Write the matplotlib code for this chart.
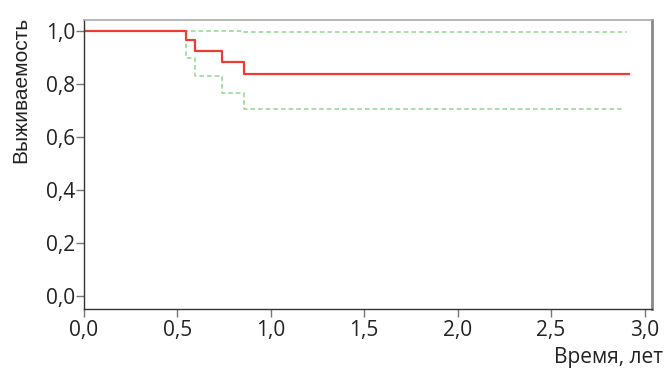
# Kaplan-Meier survival curve with 95% confidence bounds

import matplotlib.pyplot as plt

# step curve data (time in years, survival)
t_surv = [0.0, 0.548, 0.596, 0.74, 0.856, 2.915]
surv = [1.0, 0.966, 0.925, 0.884, 0.839, 0.839]

t_low = [0.0, 0.548, 0.596, 0.74, 0.856, 2.89]
low = [1.0, 0.899, 0.829, 0.765, 0.706, 0.706]

t_up = [0.0, 0.856, 2.905]
up = [1.0, 0.997, 0.997]

x_ticks = [0.0, 0.5, 1.0, 1.5, 2.0, 2.5, 3.0]
y_ticks = [0.0, 0.2, 0.4, 0.6, 0.8, 1.0]

fig = plt.figure(figsize=(6.66, 3.70), dpi=100)
ax = fig.add_axes([0.126, 0.165, 0.853, 0.781])

green = '#8fd68f'
ax.step(t_up, up, where='post', color=green, lw=1.1, ls=(0, (3, 2)))
ax.step(t_low, low, where='post', color=green, lw=1.1, ls=(0, (3, 2)))
ax.step(t_surv, surv, where='post', color='#ee3b33', lw=1.6)

ax.set_xlim(0, 3.04)
ax.set_ylim(-0.05, 1.042)
ax.set_xticks(x_ticks)
ax.set_yticks(y_ticks)
ax.set_xticklabels([f"{v:.1f}".replace('.', ',') for v in x_ticks],
                   fontfamily='Open Sans', fontsize=15, color='#222222')
ax.set_yticklabels([f"{v:.1f}".replace('.', ',') for v in y_ticks],
                   fontfamily='Open Sans', fontsize=15, color='#222222')
ax.tick_params(axis='x', length=6, width=1, color='#777777', pad=2)
ax.tick_params(axis='y', length=6, width=1, color='#777777', pad=0)

for side in ['left', 'bottom']:
    ax.spines[side].set_color('#333333')
    ax.spines[side].set_linewidth(1)
ax.spines['top'].set_color('#aaaaaa')
ax.spines['top'].set_linewidth(1.2)
ax.spines['right'].set_color('#888888')
ax.spines['right'].set_linewidth(2)

fig.text(0.031, 0.955, "Выживаемость", rotation=90, ha='center', va='top',
         fontfamily='Liberation Sans', fontsize=15, color='#222222')
fig.text(0.996, 0.005, "Время, лет", ha='right', va='bottom',
         fontfamily='Open Sans', fontsize=15, color='#222222')

fig.savefig('out.png', dpi=100)
